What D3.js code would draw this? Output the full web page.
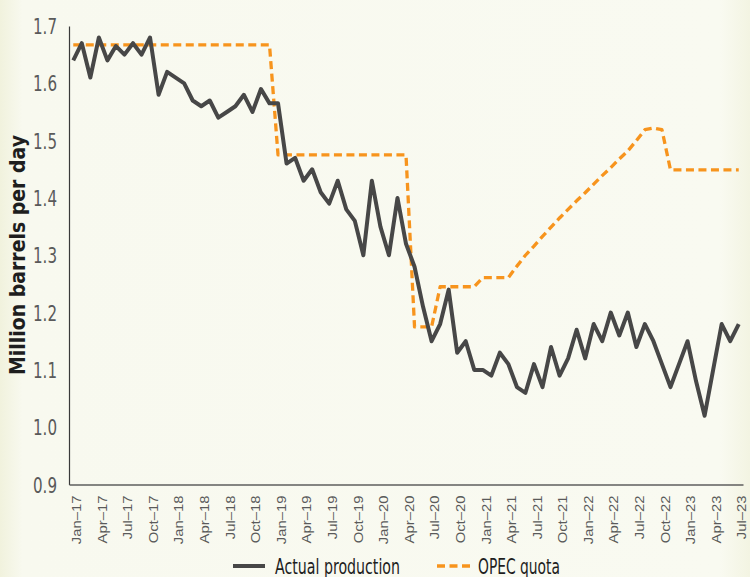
<!DOCTYPE html>
<html>
<head>
<meta charset="utf-8">
<script src="https://cdn.jsdelivr.net/npm/d3@7"></script>
<style>
    html, body { margin: 0; padding: 0; }
    body { width: 750px; height: 577px; overflow: hidden; }
    svg { display: block; }
</style>
</head>
<body>
<svg id="chart" width="750" height="577"></svg>
<script>
// monthly values, Jan-17 .. Jul-23
const production = [
    1.64, 1.67, 1.61, 1.68, 1.64, 1.665, 1.65, 1.67, 1.65, 1.68,
    1.58, 1.62, 1.61, 1.60, 1.57, 1.56, 1.57, 1.54, 1.55, 1.56,
    1.58, 1.55, 1.59, 1.565, 1.565, 1.46, 1.47, 1.43, 1.45, 1.41,
    1.39, 1.43, 1.38, 1.36, 1.30, 1.43, 1.35, 1.30, 1.40, 1.32,
    1.28, 1.21, 1.15, 1.18, 1.24, 1.13, 1.15, 1.10, 1.10, 1.09,
    1.13, 1.11, 1.07, 1.06, 1.11, 1.07, 1.14, 1.09, 1.12, 1.17,
    1.12, 1.18, 1.15, 1.20, 1.16, 1.20, 1.14, 1.18, 1.15, 1.11,
    1.07, 1.11, 1.15, 1.08, 1.02, 1.10, 1.18, 1.15, 1.18
];

const quota = [
    1.667, 1.667, 1.667, 1.667, 1.667, 1.667, 1.667, 1.667, 1.667, 1.667,
    1.667, 1.667, 1.667, 1.667, 1.667, 1.667, 1.667, 1.667, 1.667, 1.667,
    1.667, 1.667, 1.667, 1.667, 1.475, 1.475, 1.475, 1.475, 1.475, 1.475,
    1.475, 1.475, 1.475, 1.475, 1.475, 1.475, 1.475, 1.475, 1.475, 1.475,
    1.175, 1.175, 1.175, 1.245, 1.245, 1.245, 1.245, 1.245, 1.261, 1.261,
    1.261, 1.261, 1.281, 1.300, 1.316, 1.333, 1.349, 1.365, 1.380, 1.395,
    1.409, 1.424, 1.439, 1.453, 1.468, 1.482, 1.500, 1.519, 1.522, 1.519,
    1.449, 1.449, 1.449, 1.449, 1.449, 1.449, 1.449, 1.449, 1.449
];

const tickLabels = [
    "Jan–17", "Apr–17", "Jul–17", "Oct–17", "Jan–18", "Apr–18", "Jul–18", "Oct–18",
    "Jan–19", "Apr–19", "Jul–19", "Oct–19", "Jan–20", "Apr–20", "Jul–20", "Oct–20",
    "Jan–21", "Apr–21", "Jul–21", "Oct–21", "Jan–22", "Apr–22", "Jul–22", "Oct–22",
    "Jan–23", "Apr–23", "Jul–23"
];

const yTicks = [0.9, 1.0, 1.1, 1.2, 1.3, 1.4, 1.5, 1.6, 1.7];
const seriesNames = ["Actual production", "OPEC quota"];

const months = d3.range(production.length);

const svg = d3.select("#chart"),
    width = +svg.attr("width"),
    height = +svg.attr("height");

const colors = { prod: "#474747", quota: "#f7941d" };

// background
const defs = svg.append("defs");
const grad = defs.append("linearGradient").attr("id", "bg");
grad.append("stop").attr("offset", "0%").attr("stop-color", "#f1f2dd");
grad.append("stop").attr("offset", "3%").attr("stop-color", "#f8f9ef");
grad.append("stop").attr("offset", "96%").attr("stop-color", "#f9faf1");
grad.append("stop").attr("offset", "100%").attr("stop-color", "#f3f4e2");
svg.append("rect").attr("width", width).attr("height", height).attr("fill", "url(#bg)");

const x = d3.scalePoint()
    .domain(months)
    .range([69, 743])
    .padding(0.5);

const y = d3.scaleLinear()
    .domain([0.9, 1.7])
    .range([484.5, 26]);

// squeeze text to look like a condensed face
function squeeze(sel, k) {
    sel.each(function () {
        const w = this.getComputedTextLength();
        d3.select(this).attr("textLength", w * k).attr("lengthAdjust", "spacingAndGlyphs");
    });
}

// y axis
const yAxis = svg.append("g")
    .attr("transform", "translate(69,0)")
    .call(d3.axisLeft(y).tickValues(yTicks).tickFormat(d3.format(".1f")).tickSize(0).tickPadding(12));
yAxis.select(".domain").attr("stroke", "#3a3a3a").attr("stroke-width", 1.2);
yAxis.selectAll("text")
    .attr("fill", "#5a5a5a")
    .style("font-family", "'Liberation Sans Narrow', 'DejaVu Sans Condensed', sans-serif")
    .style("font-size", "21px")
    .attr("dy", "0.36em")
    .call(squeeze, 0.8);

// x axis
const quarterIdx = tickLabels.map((d, i) => i * 3);
const xAxis = svg.append("g")
    .attr("transform", "translate(0,484.5)")
    .call(d3.axisBottom(x).tickValues(quarterIdx).tickFormat((d, i) => tickLabels[i]).tickSize(0));
xAxis.select(".domain").attr("stroke", "#5e5e5e").attr("stroke-width", 1.4);
xAxis.selectAll("text")
    .attr("fill", "#5a5a5a")
    .style("font-family", "'Liberation Sans', Arial, sans-serif")
    .style("font-size", "13.5px")
    .attr("transform", "rotate(-90)")
    .attr("text-anchor", "end")
    .attr("x", -11)
    .attr("y", 2.5)
    .attr("dy", "0.35em")
    .call(squeeze, 1.1);

// y title
svg.append("text")
    .attr("transform", "translate(25,255) rotate(-90)")
    .attr("text-anchor", "middle")
    .attr("fill", "#1e1e1e")
    .style("font-family", "'Liberation Sans Narrow', 'DejaVu Sans Condensed', sans-serif")
    .style("font-size", "21px")
    .style("font-weight", "bold")
    .text("Million barrels per day")
    .call(squeeze, 1.0);

const line = d3.line()
    .x((d, i) => x(i))
    .y(d => y(d));

svg.append("path")
    .datum(quota)
    .attr("fill", "none")
    .attr("stroke", colors.quota)
    .attr("stroke-width", 3.3)
    .attr("stroke-dasharray", "8,4.5")
    .attr("stroke-linejoin", "round")
    .attr("d", line);

svg.append("path")
    .datum(production)
    .attr("fill", "none")
    .attr("stroke", colors.prod)
    .attr("stroke-width", 4)
    .attr("stroke-linejoin", "round")
    .attr("d", line);

// legend
const legend = svg.append("g").attr("class", "legend");
const legendItems = [
    { name: seriesNames[0], color: colors.prod, dash: null, width: 4, x0: 233, x1: 265, tx: 275, tw: 125 },
    { name: seriesNames[1], color: colors.quota, dash: "8,4.5", width: 3.3, x0: 437, x1: 472, tx: 478, tw: 82 }
];

legendItems.forEach(item => {
    legend.append("line")
        .attr("x1", item.x0)
        .attr("x2", item.x1)
        .attr("y1", 566)
        .attr("y2", 566)
        .attr("stroke", item.color)
        .attr("stroke-width", item.width)
        .attr("stroke-dasharray", item.dash);
    legend.append("text")
        .attr("x", item.tx)
        .attr("y", 573.5)
        .attr("fill", "#1e1e1e")
        .style("font-family", "'Liberation Sans Narrow', 'DejaVu Sans Condensed', sans-serif")
        .style("font-size", "21px")
        .attr("textLength", item.tw)
        .attr("lengthAdjust", "spacingAndGlyphs")
        .text(item.name);
});
</script>
</body>
</html>
